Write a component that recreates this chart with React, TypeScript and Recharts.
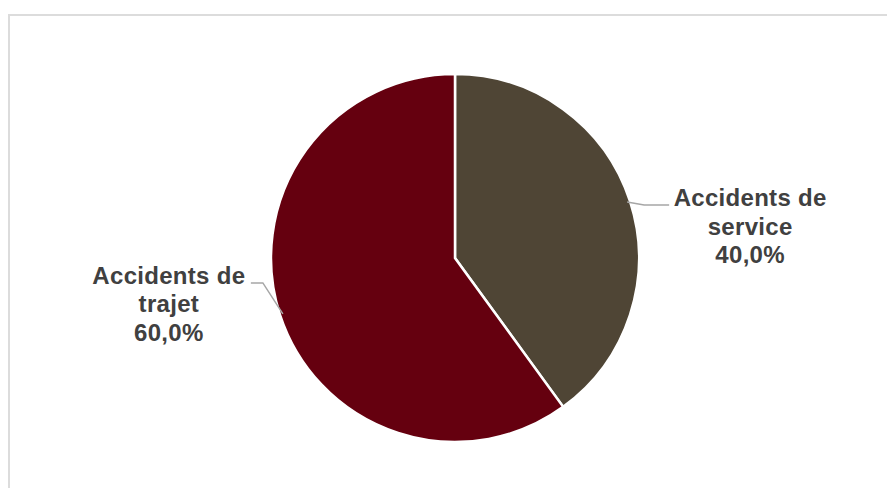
import { PieChart, Pie, Cell } from "recharts";

const categories = ["Accidents de service", "Accidents de trajet"];
const labelLines = [["Accidents de", "service"], ["Accidents de", "trajet"]];
const shares = [40.0, 60.0];

const COLORS = ["#4f4535", "#65000f"];

const data = categories.map((name, i) => ({ name, value: shares[i] }));

const RADIAN = Math.PI / 180;

const renderLabel = (props: any) => {
    const { cx, cy, midAngle, outerRadius, index, value } = props;
    const cos = Math.cos(-midAngle * RADIAN);
    const sin = Math.sin(-midAngle * RADIAN);
    const sx = cx + (outerRadius - 3) * cos;
    const sy = cy + (outerRadius - 3) * sin;
    const right = cos >= 0;
    // elbow + horizontal run of the leader line
    const mx = right ? sx + 17 : sx - 20;
    const my = right ? sy + 3 : sy - 31;
    const ex = right ? mx + 25 : mx - 12;
    const tx = right ? ex + 81 : ex - 82;
    const lines = [...labelLines[index], value.toFixed(1).replace(".", ",") + "%"];
    const top = right ? my + 1 : my + 1;
    return (
        <g>
            <polyline
                points={`${sx},${sy} ${mx},${my} ${ex},${my}`}
                fill="none"
                stroke="#a6a6a6"
                strokeWidth={1.5}
            />
            <text
                x={tx}
                y={top}
                textAnchor="middle"
                fill="#404040"
                fontSize={24}
                fontWeight="bold"
                letterSpacing={0.3}
                fontFamily="'Liberation Sans', Arial, sans-serif"
            >
                {lines.map((l, i) => (
                    <tspan key={i} x={tx} dy={i === 0 ? 0 : 28.5}>
                        {l}
                    </tspan>
                ))}
            </text>
        </g>
    );
};

export default function App() {
    return (
        <div style={{ position: "absolute", left: 0, top: 0, width: 887, height: 488, background: "#fff" }}>
            <div
                style={{
                    position: "absolute",
                    left: 8,
                    top: 14,
                    right: 0,
                    bottom: 0,
                    borderTop: "2px solid #dcdcdc",
                    borderLeft: "2px solid #dcdcdc",
                }}
            />
            <PieChart
                width={887}
                height={488}
                margin={{ top: 0, right: 0, bottom: 0, left: 0 }}
                style={{ position: "absolute", left: 0, top: 0 }}
            >
                <Pie
                    data={data}
                    cx={455}
                    cy={258}
                    outerRadius={184}
                    startAngle={90}
                    endAngle={-270}
                    dataKey="value"
                    stroke="#ffffff"
                    strokeWidth={2.5}
                    label={renderLabel}
                    labelLine={false}
                    isAnimationActive={false}
                >
                    {data.map((_, index) => (
                        <Cell key={`cell-${index}`} fill={COLORS[index % COLORS.length]} />
                    ))}
                </Pie>
            </PieChart>
        </div>
    );
}
